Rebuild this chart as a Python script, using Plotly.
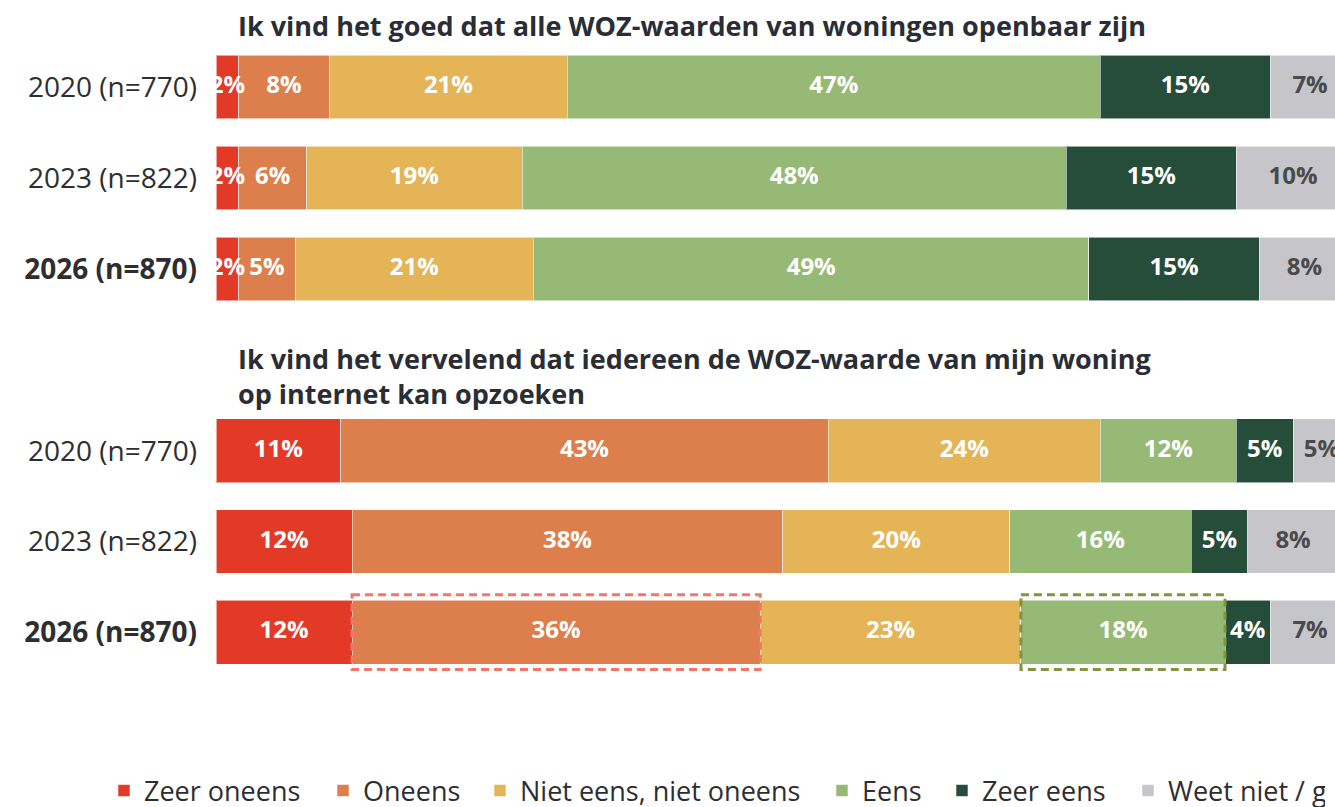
import plotly.graph_objects as go

# --- data -----------------------------------------------------------------
years = ["2020 (n=770)", "2023 (n=822)", "2026 (n=870)"]
year_ticktext = ["2020 (n=770)", "2023 (n=822)", "<b>2026 (n=870)</b>"]

answers = [
    "Zeer oneens",
    "Oneens",
    "Niet eens, niet oneens",
    "Eens",
    "Zeer eens",
    "Weet niet / geen mening",
]

# Statement 1: "Ik vind het goed dat alle WOZ-waarden van woningen openbaar zijn" (%)
q1_zeer_oneens = [2, 2, 2]
q1_oneens = [8, 6, 5]
q1_neutraal = [21, 19, 21]
q1_eens = [47, 48, 49]
q1_zeer_eens = [15, 15, 15]
q1_weet_niet = [7, 10, 8]

# Statement 2: "Ik vind het vervelend dat iedereen de WOZ-waarde ... kan opzoeken" (%)
q2_zeer_oneens = [11, 12, 12]
q2_oneens = [43, 38, 36]
q2_neutraal = [24, 20, 23]
q2_eens = [12, 16, 18]
q2_zeer_eens = [5, 5, 4]
q2_weet_niet = [5, 8, 7]

title_q1 = "Ik vind het goed dat alle WOZ-waarden van woningen openbaar zijn"
title_q2_lines = [
    "Ik vind het vervelend dat iedereen de WOZ-waarde van mijn woning",
    "op internet kan opzoeken",
]

# --- styling --------------------------------------------------------------
W, H = 1335, 807
FONT = "Open Sans"
colors = ["#E23A27", "#DC7F4C", "#E4B457", "#96BA76", "#264D3A", "#C6C5CA"]
label_colors = ["#FFFFFF"] * 5 + ["#4A4A4C"]
MARGIN_L = 216
X_MAX = 98.7          # part of the 0-100 scale that fits in the plot area
BAR_GAP = 0.297

def py(px):
    """pixel row -> figure fraction (no top/bottom margin)"""
    return 1 - px / H

def px_to_paper_x(px):
    return (px - MARGIN_L) / (W - MARGIN_L)

q1 = [q1_zeer_oneens, q1_oneens, q1_neutraal, q1_eens, q1_zeer_eens, q1_weet_niet]
q2 = [q2_zeer_oneens, q2_oneens, q2_neutraal, q2_eens, q2_zeer_eens, q2_weet_niet]

fig = go.Figure()

def add_block(series, yaxis, with_legend):
    starts = [0.0] * len(years)
    for i, (name, vals) in enumerate(zip(answers, series)):
        fig.add_trace(go.Bar(
            orientation="h", x=vals, y=years, name=name,
            marker=dict(color=colors[i], line=dict(width=1, color="rgba(255,255,255,0.55)")),
            xaxis="x", yaxis=yaxis,
            legendgroup=name, showlegend=with_legend,
            legend="legend" if i == 0 else f"legend{i + 1}",
            hoverinfo="skip",
        ))
        mids = [s + v / 2 for s, v in zip(starts, vals)]
        fig.add_trace(go.Scatter(
            x=mids, y=years, mode="text", text=[f"{v}%" for v in vals],
            textposition="middle center",
            textfont=dict(family=FONT, size=24, color=label_colors[i], weight=700),
            xaxis="x", yaxis=yaxis, showlegend=False, cliponaxis=True, hoverinfo="skip",
        ))
        starts = [s + v for s, v in zip(starts, vals)]

add_block(q1, "y", True)
add_block(q2, "y2", False)

# dashed highlight boxes around the 2026 "Oneens" and "Eens" segments of statement 2
def segment_bounds(series, k, row):
    x0 = sum(s[row] for s in series[:k])
    return x0, x0 + series[k][row]

half = 0.412
for k, col in [(1, "#F2766A"), (3, "#82953E")]:
    x0, x1 = segment_bounds(q2, k, 2)
    fig.add_shape(type="rect", xref="x", yref="y2", x0=x0, x1=x1,
                  y0=2 - half, y1=2 + half, layer="above",
                  line=dict(color=col, width=3, dash="8px,5px"),
                  fillcolor="rgba(0,0,0,0)")

yax = dict(
    type="category", categoryorder="array", categoryarray=years,
    autorange="reversed", tickmode="array", tickvals=years, ticktext=year_ticktext,
    showgrid=False, zeroline=False, showline=False, ticks="",
    ticklabelstandoff=18, anchor="x",
    tickfont=dict(family=FONT, size=28, color="#2E2E30"),
)

fig.update_layout(
    width=W, height=H,
    margin=dict(l=MARGIN_L, r=0, t=0, b=0, autoexpand=False),
    paper_bgcolor="white", plot_bgcolor="white",
    barmode="stack", bargap=BAR_GAP,
    font=dict(family=FONT, color="#2E2E30"),
    xaxis=dict(range=[0, X_MAX], domain=[0, 1], visible=False, fixedrange=True),
    yaxis=dict(domain=[1 - 314.5 / H, 1 - 41.5 / H], **yax),
    yaxis2=dict(domain=[1 - 677.5 / H, 1 - 405.5 / H], **yax),
)

# statement titles
title_font = dict(family=FONT, size=27, color="#2A2D34", weight=700)
title_rows = [(title_q1, 26)] + list(zip(title_q2_lines, [358, 394]))
for txt, row in title_rows:
    fig.add_annotation(text=txt, xref="paper", yref="paper",
                       x=px_to_paper_x(236), y=py(row), xanchor="left", yanchor="middle",
                       showarrow=False, font=title_font)

# one legend per answer, laid out in a single row along the bottom
legend_text_x = [144, 363, 520, 862, 982, 1168]
for i, tx in enumerate(legend_text_x):
    key = "legend" if i == 0 else f"legend{i + 1}"
    cfg = dict(
        orientation="h", xref="container", yref="container",
        x=(tx - 40) / W, y=py(791), xanchor="left", yanchor="middle",
        bgcolor="rgba(0,0,0,0)", borderwidth=0,
        font=dict(family=FONT, size=27, color="#2E2E30"),
    )
    if i == len(legend_text_x) - 1:
        cfg.update(entrywidth=152, entrywidthmode="pixels")
    fig.update_layout(**{key: cfg})

fig.write_html("out.html")
